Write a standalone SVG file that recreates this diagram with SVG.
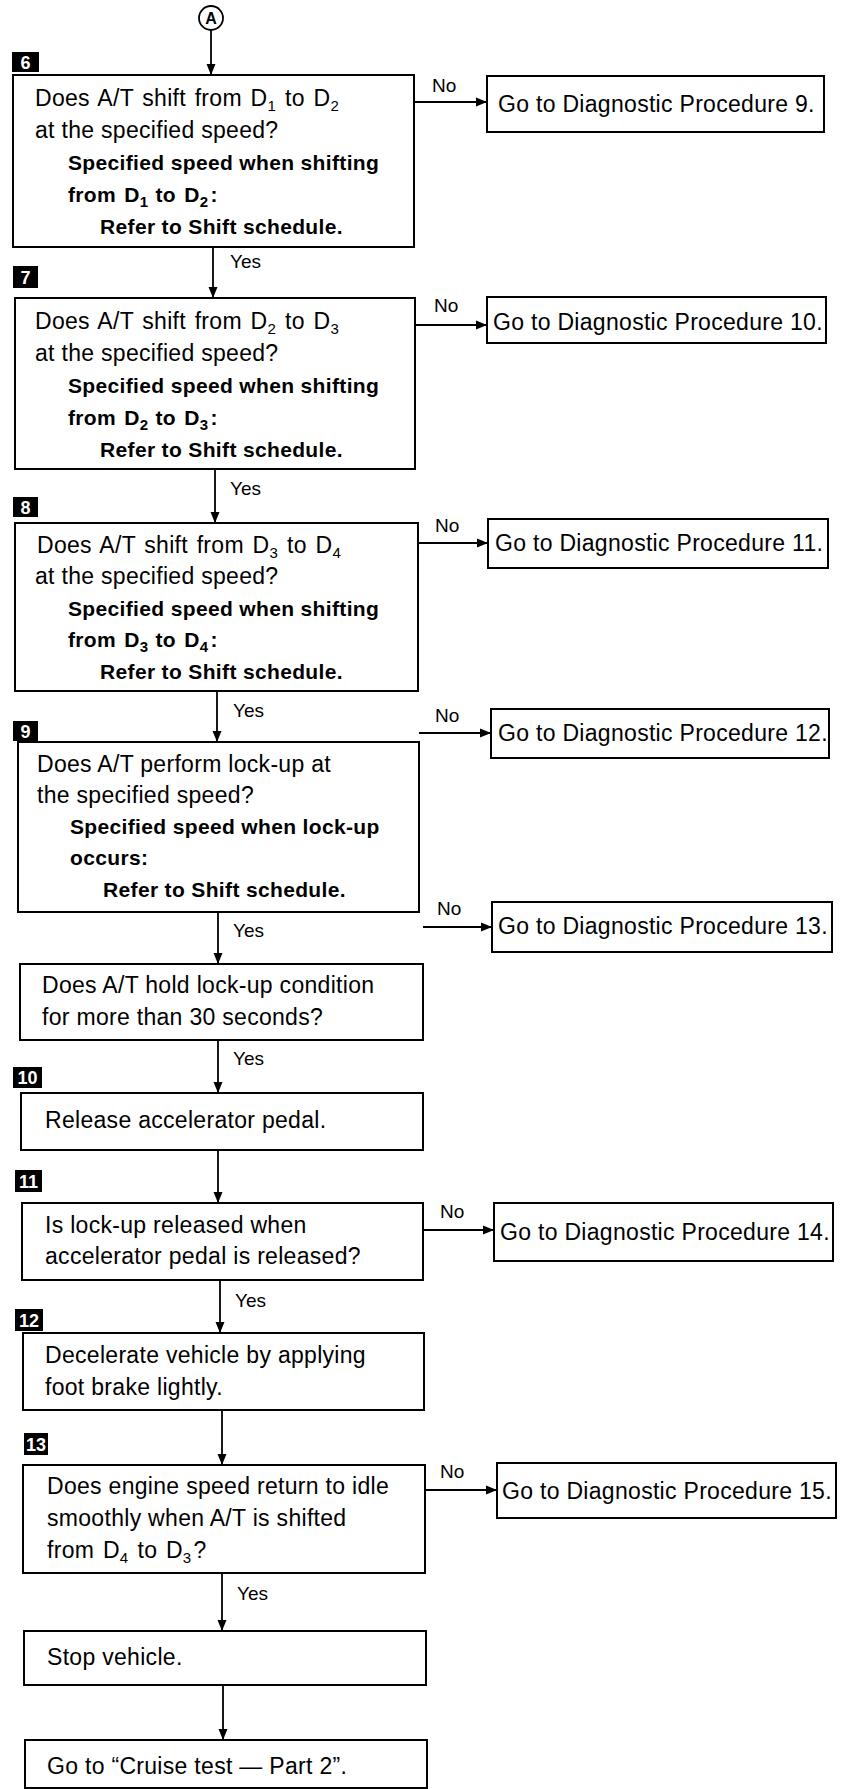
<svg xmlns="http://www.w3.org/2000/svg" width="849" height="1789" viewBox="0 0 849 1789">
<defs>
<marker id="arr" markerUnits="userSpaceOnUse" markerWidth="12" markerHeight="10" refX="11" refY="5" orient="auto">
<path d="M0,0.5 L11,5 L0,9.5 z" fill="#000"/>
</marker>
<style>
.box{fill:#fff;stroke:#000;stroke-width:2}
.t{font-family:"Liberation Sans",Arial,sans-serif;font-size:23px;letter-spacing:0.3px;fill:#000}
.w{word-spacing:2px}
.b{font-family:"Liberation Sans",Arial,sans-serif;font-size:21px;font-weight:bold;letter-spacing:0.35px;fill:#000}
.lbl{font-family:"Liberation Sans",Arial,sans-serif;font-size:19px;fill:#000}
.sub{font-size:15px}
.badge{fill:#000}
.bt{font-family:"Liberation Sans",Arial,sans-serif;font-size:18px;font-weight:bold;fill:#fff;text-anchor:middle}
.c{stroke:#000;stroke-width:1.8;fill:none;marker-end:url(#arr)}
</style>
</defs>
<rect width="849" height="1789" fill="#fff"/>

<g id="connectorA">
<circle cx="211" cy="18" r="12" fill="#fff" stroke="#000" stroke-width="1.8"/>
<text x="211" y="24" font-family="Liberation Sans,Arial,sans-serif" font-size="16" font-weight="bold" text-anchor="middle">A</text>
</g>

<g id="connectors">
<line class="c" x1="211" y1="30" x2="211" y2="75"/>
<line class="c" x1="213" y1="247" x2="213" y2="298"/>
<line class="c" x1="215" y1="469" x2="215" y2="523"/>
<line class="c" x1="217" y1="691" x2="217" y2="742"/>
<line class="c" x1="218" y1="912" x2="218" y2="964"/>
<line class="c" x1="218" y1="1040" x2="218" y2="1093"/>
<line class="c" x1="218" y1="1150" x2="218" y2="1203"/>
<line class="c" x1="220" y1="1280" x2="220" y2="1333"/>
<line class="c" x1="222" y1="1410" x2="222" y2="1465"/>
<line class="c" x1="222" y1="1573" x2="222" y2="1631"/>
<line class="c" x1="223" y1="1685" x2="223" y2="1740"/>
<line class="c" x1="414" y1="102" x2="487" y2="102"/>
<line class="c" x1="415" y1="325" x2="487" y2="325"/>
<line class="c" x1="418" y1="543" x2="488" y2="543"/>
<line class="c" x1="419" y1="733" x2="491" y2="733"/>
<line class="c" x1="423" y1="927" x2="492" y2="927"/>
<line class="c" x1="423" y1="1230" x2="494" y2="1230"/>
<line class="c" x1="425" y1="1490" x2="497" y2="1490"/>
<text class="lbl" x="230" y="268">Yes</text>
<text class="lbl" x="230" y="495">Yes</text>
<text class="lbl" x="233" y="717">Yes</text>
<text class="lbl" x="233" y="937">Yes</text>
<text class="lbl" x="233" y="1065">Yes</text>
<text class="lbl" x="235" y="1307">Yes</text>
<text class="lbl" x="237" y="1600">Yes</text>
<text class="lbl" x="432" y="92">No</text>
<text class="lbl" x="434" y="312">No</text>
<text class="lbl" x="435" y="532">No</text>
<text class="lbl" x="435" y="722">No</text>
<text class="lbl" x="437" y="915">No</text>
<text class="lbl" x="440" y="1218">No</text>
<text class="lbl" x="440" y="1478">No</text>
</g>

<g id="step6">
<rect class="badge" x="12" y="52" width="27" height="20"/>
<text class="bt" x="25.5" y="68.5">6</text>
<rect class="box" x="13" y="75" width="401" height="172"/>
<text class="t w" x="35" y="106">Does A/T shift from D<tspan class="sub" dy="5">1</tspan><tspan dy="-5" dx="9">to D</tspan><tspan class="sub" dy="5">2</tspan></text>
<text class="t" x="35" y="138">at the specified speed?</text>
<text class="b" x="68" y="170">Specified speed when shifting</text>
<text class="b w" x="68" y="202">from D<tspan class="sub" dy="5">1</tspan><tspan dy="-5" dx="7">to D</tspan><tspan class="sub" dy="5">2</tspan><tspan dy="-5" dx="2">:</tspan></text>
<text class="b" x="100" y="234">Refer to Shift schedule.</text>
</g>

<g id="proc9">
<rect class="box" x="487" y="76" width="337" height="56"/>
<text class="t" x="498" y="112">Go to Diagnostic Procedure 9.</text>
</g>

<g id="step7">
<rect class="badge" x="13" y="266" width="25" height="22"/>
<text class="bt" x="25.5" y="283.5">7</text>
<rect class="box" x="15" y="298" width="400" height="171"/>
<text class="t w" x="35" y="329">Does A/T shift from D<tspan class="sub" dy="5">2</tspan><tspan dy="-5" dx="9">to D</tspan><tspan class="sub" dy="5">3</tspan></text>
<text class="t" x="35" y="361">at the specified speed?</text>
<text class="b" x="68" y="393">Specified speed when shifting</text>
<text class="b w" x="68" y="425">from D<tspan class="sub" dy="5">2</tspan><tspan dy="-5" dx="7">to D</tspan><tspan class="sub" dy="5">3</tspan><tspan dy="-5" dx="2">:</tspan></text>
<text class="b" x="100" y="457">Refer to Shift schedule.</text>
</g>

<g id="proc10">
<rect class="box" x="487" y="297" width="339" height="46"/>
<text class="t" x="493" y="330">Go to Diagnostic Procedure 10.</text>
</g>

<g id="step8">
<rect class="badge" x="13" y="497" width="25" height="20"/>
<text class="bt" x="25.5" y="513.5">8</text>
<rect class="box" x="15" y="523" width="403" height="168"/>
<text class="t w" x="37" y="553">Does A/T shift from D<tspan class="sub" dy="5">3</tspan><tspan dy="-5" dx="9">to D</tspan><tspan class="sub" dy="5">4</tspan></text>
<text class="t" x="35" y="584">at the specified speed?</text>
<text class="b" x="68" y="616">Specified speed when shifting</text>
<text class="b w" x="68" y="647">from D<tspan class="sub" dy="5">3</tspan><tspan dy="-5" dx="7">to D</tspan><tspan class="sub" dy="5">4</tspan><tspan dy="-5" dx="2">:</tspan></text>
<text class="b" x="100" y="679">Refer to Shift schedule.</text>
</g>

<g id="proc11">
<rect class="box" x="488" y="519" width="340" height="49"/>
<text class="t" x="495" y="551">Go to Diagnostic Procedure 11.</text>
</g>

<g id="step9">
<rect class="badge" x="13" y="721" width="25" height="20"/>
<text class="bt" x="25.5" y="737.5">9</text>
<rect class="box" x="18" y="742" width="401" height="170"/>
<text class="t" x="37" y="772">Does A/T perform lock-up at</text>
<text class="t" x="37" y="803">the specified speed?</text>
<text class="b" x="70" y="834">Specified speed when lock-up</text>
<text class="b" x="70" y="865">occurs:</text>
<text class="b" x="103" y="897">Refer to Shift schedule.</text>
</g>

<g id="proc12">
<rect class="box" x="491" y="709" width="338" height="49"/>
<text class="t" x="498" y="741">Go to Diagnostic Procedure 12.</text>
</g>

<g id="holdLockup">
<rect class="box" x="20" y="964" width="403" height="76"/>
<text class="t" x="42" y="993">Does A/T hold lock-up condition</text>
<text class="t" x="42" y="1025">for more than 30 seconds?</text>
</g>

<g id="proc13">
<rect class="box" x="492" y="902" width="340" height="50"/>
<text class="t" x="498" y="934">Go to Diagnostic Procedure 13.</text>
</g>

<g id="step10">
<rect class="badge" x="13" y="1067" width="29" height="21"/>
<text class="bt" x="27.5" y="1084">10</text>
<rect class="box" x="21" y="1093" width="402" height="57"/>
<text class="t" x="45" y="1128">Release accelerator pedal.</text>
</g>

<g id="step11">
<rect class="badge" x="15" y="1170" width="27" height="22"/>
<text class="bt" x="28.5" y="1187.5">11</text>
<rect class="box" x="22" y="1203" width="401" height="77"/>
<text class="t" x="45" y="1233">Is lock-up released when</text>
<text class="t" x="45" y="1264">accelerator pedal is released?</text>
</g>

<g id="proc14">
<rect class="box" x="494" y="1203" width="339" height="58"/>
<text class="t" x="500" y="1240">Go to Diagnostic Procedure 14.</text>
</g>

<g id="step12">
<rect class="badge" x="15" y="1309" width="28" height="22"/>
<text class="bt" x="29" y="1326.5">12</text>
<rect class="box" x="23" y="1333" width="401" height="77"/>
<text class="t" x="45" y="1363">Decelerate vehicle by applying</text>
<text class="t" x="45" y="1395">foot brake lightly.</text>
</g>

<g id="step13">
<rect class="badge" x="24" y="1433" width="24" height="22"/>
<text class="bt" x="36" y="1450.5">13</text>
<rect class="box" x="23" y="1465" width="402" height="108"/>
<text class="t" x="47" y="1494">Does engine speed return to idle</text>
<text class="t" x="47" y="1526">smoothly when A/T is shifted</text>
<text class="t w" x="47" y="1558">from D<tspan class="sub" dy="5">4</tspan><tspan dy="-5" dx="9">to D</tspan><tspan class="sub" dy="5">3</tspan><tspan dy="-5" dx="2">?</tspan></text>
</g>

<g id="proc15">
<rect class="box" x="497" y="1463" width="339" height="55"/>
<text class="t" x="502" y="1499">Go to Diagnostic Procedure 15.</text>
</g>

<g id="stopVehicle">
<rect class="box" x="24" y="1631" width="402" height="54"/>
<text class="t" x="47" y="1665">Stop vehicle.</text>
</g>

<g id="cruiseTest">
<rect class="box" x="25" y="1740" width="402" height="48"/>
<text class="t" x="47" y="1774">Go to “Cruise test — Part 2”.</text>
</g>
</svg>
